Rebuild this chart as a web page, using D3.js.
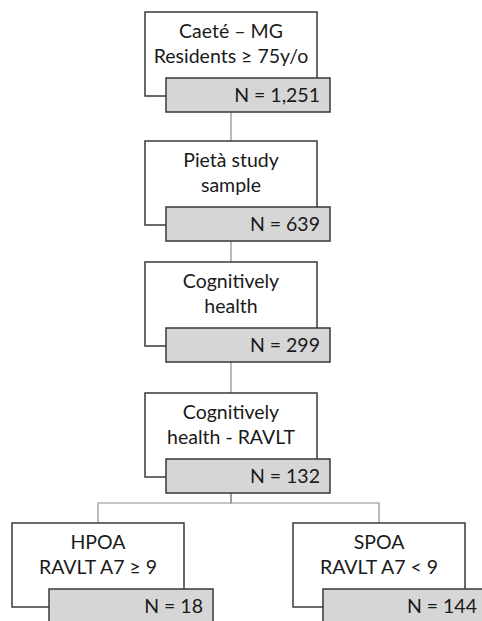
<!DOCTYPE html>
<html>
<head>
<meta charset="utf-8">
<script src="https://cdn.jsdelivr.net/npm/d3@7"></script>
<style>
  body { margin: 0; background: #fff; }
  text { font-family: Lato, "Open Sans", sans-serif; fill: #1a1a1a; }
</style>
</head>
<body>
<div id="chart"></div>
<script>

// flow steps, top to bottom
var stepLines = [
  ["Caeté – MG", "Residents ≥ 75y/o"],
  ["Pietà study", "sample"],
  ["Cognitively", "health"],
  ["Cognitively", "health - RAVLT"],
  ["HPOA", "RAVLT A7 ≥ 9"],
  ["SPOA", "RAVLT A7 < 9"]
];
var stepCounts = ["1,251", "639", "299", "132", "18", "144"];
var stepRows = [0, 1, 2, 3, 4, 4];
var stepCols = ["center", "center", "center", "center", "left", "right"];
var stepParents = [null, 0, 1, 2, 3, 3];

var width = 482, height = 621;
var boxW = 172, boxH = 84;
var grayW = 164, grayH = 34, grayDy = 66;

var svg = d3.select("#chart").append("svg")
  .attr("width", width)
  .attr("height", height);

var y = d3.scaleLinear().domain([0, 1, 2, 3, 4]).range([12, 141, 262, 393, 523]);
var x = d3.scaleOrdinal().domain(["left", "center", "right"]).range([12, 145, 293]);
var grayDx = d3.scaleOrdinal().domain(["left", "center", "right"]).range([37, 21, 30]);

var nodes = stepLines.map(function(lines, i) {
  return {
    lines: lines,
    n: stepCounts[i],
    x: x(stepCols[i]),
    y: y(stepRows[i]),
    gx: x(stepCols[i]) + grayDx(stepCols[i]),
    parent: stepParents[i]
  };
});

// connectors
var links = svg.append("g")
  .attr("fill", "none")
  .attr("stroke", "#8c8c8c")
  .attr("stroke-width", 1.2);

nodes.forEach(function(d) {
  if (d.parent === null) return;
  var p = nodes[d.parent];
  var px = p.x + boxW / 2, py = p.y + grayDy + grayH;
  var cx = d.x + boxW / 2, cy = d.y;
  var midY = py + 10;
  if (Math.abs(px - cx) < 1) {
    links.append("path").attr("d", "M" + px + "," + py + "V" + cy);
  } else {
    links.append("path").attr("d", "M" + px + "," + py + "V" + midY + "H" + cx + "V" + cy);
  }
});

var g = svg.selectAll("g.node")
  .data(nodes)
  .enter().append("g")
  .attr("class", "node");

g.append("rect")
  .attr("x", function(d) { return d.x; })
  .attr("y", function(d) { return d.y; })
  .attr("width", boxW)
  .attr("height", boxH)
  .attr("fill", "#fff")
  .attr("stroke", "#383838")
  .attr("stroke-width", 1.5);

g.append("rect")
  .attr("x", function(d) { return d.gx; })
  .attr("y", function(d) { return d.y + grayDy; })
  .attr("width", grayW)
  .attr("height", grayH)
  .attr("fill", "#d6d6d6")
  .attr("stroke", "#383838")
  .attr("stroke-width", 1.5);

g.each(function(d) {
  var el = d3.select(this);
  d.lines.forEach(function(line, j) {
    el.append("text")
      .attr("x", d.x + boxW / 2)
      .attr("y", d.y + 19 + j * 25)
      .attr("dy", "0.35em")
      .attr("text-anchor", "middle")
      .attr("font-size", 19.5)
      .text(line);
  });
});

g.append("text")
  .attr("x", function(d) { return d.gx + grayW - 10; })
  .attr("y", function(d) { return d.y + grayDy + grayH / 2; })
  .attr("dy", "0.36em")
  .attr("text-anchor", "end")
  .attr("font-size", 19.5)
  .text(function(d) { return "N = " + d.n; });

</script>
</body>
</html>
